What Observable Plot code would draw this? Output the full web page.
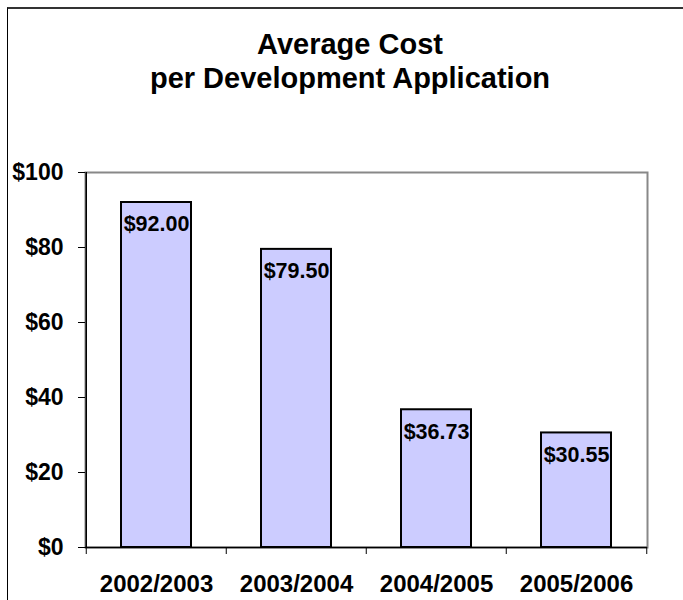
<!DOCTYPE html>
<html><head><meta charset="utf-8">
<script src="https://cdn.jsdelivr.net/npm/d3@7"></script>
<script src="https://cdn.jsdelivr.net/npm/@observablehq/plot@0.6"></script>
<style>
body{margin:0;background:#fff;}
#wrap{position:relative;width:683px;height:600px;overflow:hidden;font-family:"Liberation Sans",Arial,sans-serif;background:#fff;}
#frame{position:absolute;left:7px;top:7px;width:720px;height:720px;border-top:2px solid #333;border-left:1px solid #000;}
#title{position:absolute;left:0;top:27px;width:700px;text-align:center;font-weight:bold;font-size:29px;line-height:34px;color:#000;}
#chart{position:absolute;left:0;top:150px;}
</style></head>
<body><div id="wrap"><div id="frame"></div><div id="title">Average Cost<br>per Development Application</div><div id="chart"></div></div>
<script>
const years = ["2002/2003", "2003/2004", "2004/2005", "2005/2006"];
const costs = [92.00, 79.50, 36.73, 30.55];
const yTicks = [0, 20, 40, 60, 80, 100];
const data = years.map((year, i) => ({year, cost: costs[i]}));

const W = 683, H = 450, mL = 85, mR = 36, mT = 22, mB = 53;
const step = (W - mL - mR) / years.length;

const plot = Plot.plot({
  width: W, height: H,
  marginLeft: mL, marginRight: mR, marginTop: mT, marginBottom: mB,
  style: {fontFamily: '"Liberation Sans", Arial, sans-serif', fontWeight: "bold", color: "#000", background: "transparent", overflow: "visible"},
  x: {type: "band", domain: years, paddingInner: 0.5, paddingOuter: 0.25, label: null},
  y: {domain: [0, 100], label: null},
  marks: [
    Plot.frame({stroke: "#888", strokeWidth: 2}),
    Plot.barY(data, {x: "year", y: "cost", fill: "#CCCCFF", stroke: "#000", strokeWidth: 2}),
    Plot.text(data, {x: "year", y: "cost", text: d => "$" + d.cost.toFixed(2), dy: 22, fontSize: 21.5, fontWeight: "bold", fill: "#000"}),
    Plot.ruleX([years[0]], {x: d => d, dx: -step / 2, stroke: "#000", strokeWidth: 1.5}),
    Plot.ruleY([0], {stroke: "#000", strokeWidth: 1.5}),
    Plot.ruleX(years, {x: d => d, y1: 0, y2: 0, dx: -step / 2, insetBottom: -7, stroke: "#000"}),
    Plot.ruleX([years[years.length - 1]], {x: d => d, y1: 0, y2: 0, dx: step / 2, insetBottom: -7, stroke: "#000"}),
    Plot.axisY({ticks: yTicks, tickSize: 7, tickPadding: 15, tickFormat: d => "$" + d, fontSize: 23, fontWeight: "bold", stroke: "#000", fill: "#000"}),
    Plot.axisX({tickSize: 0, tickPadding: 27, fontSize: 24, fontWeight: "bold", fill: "#000"})
  ]
});
document.getElementById("chart").appendChild(plot);
</script>
</body></html>
